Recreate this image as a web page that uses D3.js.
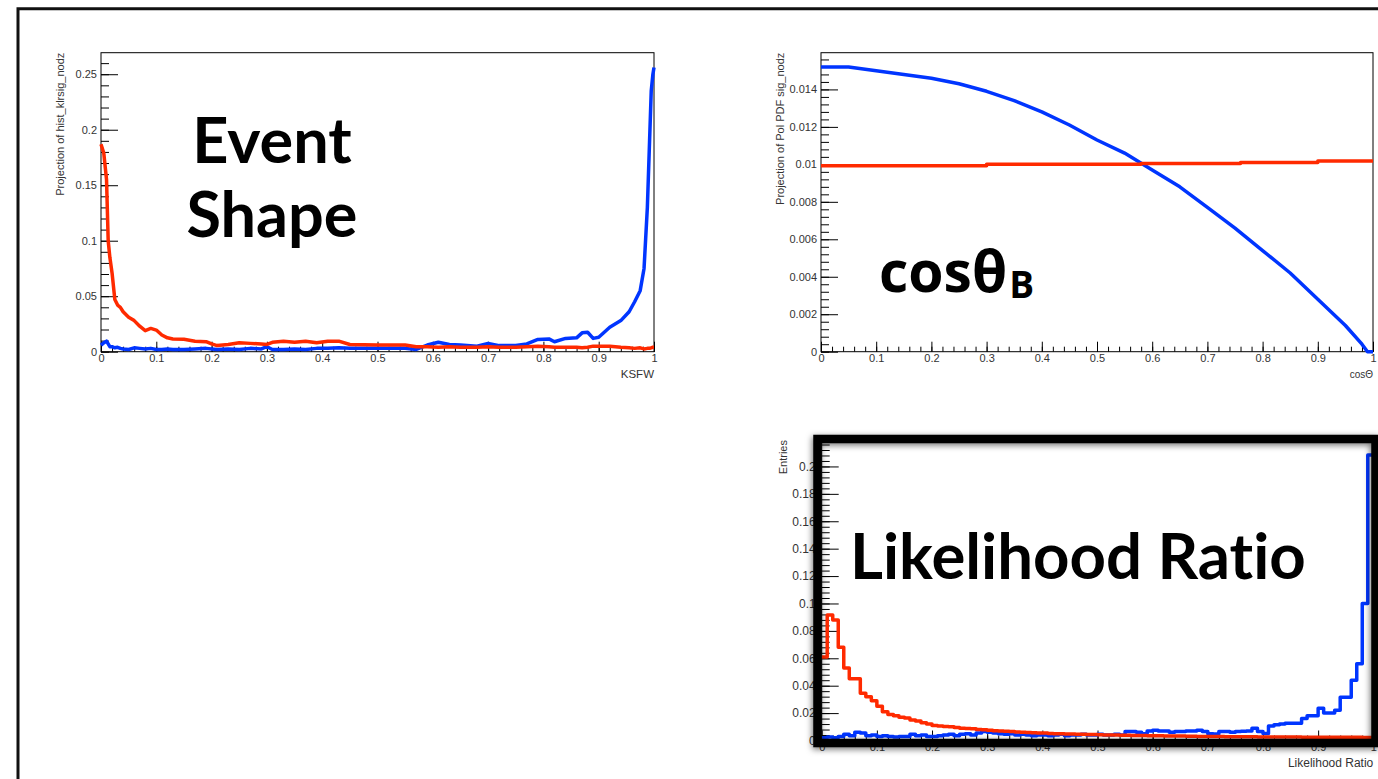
<!DOCTYPE html>
<html>
<head>
<meta charset="utf-8">
<script src="https://cdn.jsdelivr.net/npm/d3@7"></script>
<style>
  body { margin: 0; background: #fff; }
  svg { display: block; }
  .tick text { font-family: "Liberation Sans", Arial, sans-serif; font-size: 11px; fill: #333; }
  .tick line { stroke: #000; }
  .ttl { font-family: "Liberation Sans", Arial, sans-serif; font-size: 11px; fill: #333; }
  .big { font-family: Lato, sans-serif; font-weight: 700; fill: #000;
         font-variant-ligatures: none; font-feature-settings: "liga" 0, "dlig" 0; }
</style>
</head>
<body>
<div id="slide"></div>
<script>
// page size
var W = 1378, H = 779;

// shared x ticks (all three panels run 0..1)
var unitXTicks = [0, 0.1, 0.2, 0.3, 0.4, 0.5, 0.6, 0.7, 0.8, 0.9, 1];

// ---- KSFW panel (event shape) ----
var ksfwX = [0, 0.005, 0.01, 0.013, 0.016, 0.02, 0.025, 0.03, 0.035, 0.04,
  0.05, 0.06, 0.07, 0.08, 0.09, 0.1, 0.11, 0.12, 0.13, 0.15,
  0.17, 0.19, 0.2, 0.21, 0.23, 0.25, 0.27, 0.29, 0.3, 0.31,
  0.33, 0.35, 0.37, 0.39, 0.41, 0.43, 0.45, 0.5, 0.55, 0.57,
  0.59, 0.61, 0.63, 0.65, 0.68, 0.7, 0.72, 0.75, 0.77, 0.79,
  0.81, 0.82, 0.84, 0.86, 0.87, 0.88, 0.89, 0.9, 0.92, 0.94,
  0.955, 0.965, 0.975, 0.982, 0.988, 0.992, 0.995, 0.998, 1.0];
var ksfwBkg = [0.187, 0.179, 0.155, 0.1, 0.085, 0.071, 0.047, 0.042, 0.04, 0.036,
  0.031, 0.028, 0.023, 0.019, 0.021, 0.0195, 0.015, 0.0125, 0.0115, 0.0112,
  0.0095, 0.009, 0.007, 0.0055, 0.0065, 0.008, 0.0075, 0.007, 0.0065, 0.0085,
  0.0095, 0.0085, 0.0095, 0.008, 0.0095, 0.0095, 0.0065, 0.006, 0.006, 0.0045,
  0.0045, 0.004, 0.0045, 0.004, 0.004, 0.0045, 0.004, 0.004, 0.0045, 0.005,
  0.0045, 0.004, 0.004, 0.004, 0.0035, 0.004, 0.005, 0.0048, 0.005, 0.004,
  0.0035, 0.003, 0.0035, 0.0025, 0.003, 0.003, 0.0035, 0.004, 0.004];
var ksfwSig = [0.006, 0.008, 0.0095, 0.007, 0.0045, 0.0045, 0.0035, 0.004, 0.003, 0.0025,
  0.002, 0.0035, 0.003, 0.0025, 0.003, 0.002, 0.002, 0.0025, 0.002, 0.002,
  0.0025, 0.003, 0.0025, 0.002, 0.0025, 0.002, 0.003, 0.0025, 0.0045, 0.002,
  0.002, 0.0025, 0.002, 0.003, 0.003, 0.0035, 0.003, 0.003, 0.003, 0.002,
  0.006, 0.0085, 0.0065, 0.006, 0.005, 0.0075, 0.0055, 0.0055, 0.007, 0.011,
  0.0115, 0.009, 0.012, 0.0125, 0.017, 0.0175, 0.012, 0.013, 0.022, 0.028,
  0.036, 0.045, 0.055, 0.075, 0.13, 0.19, 0.235, 0.25, 0.256];
var ksfwYTicks = [0, 0.05, 0.1, 0.15, 0.2, 0.25];

// ---- cos(theta_B) panel ----
var cosX = [0, 0.05, 0.1, 0.15, 0.2, 0.25, 0.3, 0.35, 0.4, 0.45,
  0.5, 0.55, 0.6, 0.65, 0.7, 0.75, 0.8, 0.85, 0.9, 0.95, 0.98, 0.99, 1.0];
var cosSig = [0.0152, 0.0152, 0.015, 0.0148, 0.0146, 0.0143, 0.0139, 0.0134, 0.0128, 0.0121,
  0.0113, 0.0106, 0.0097, 0.0088, 0.0077, 0.0066, 0.0054, 0.0042, 0.0028, 0.0014, 0.0004, 0, 0];
var cosBkgEdges = [0, 0.3, 0.58, 0.76, 0.9, 1.0];
var cosBkg = [0.00993, 0.01, 0.01005, 0.0101, 0.01018];
var cosYTicks = [0, 0.002, 0.004, 0.006, 0.008, 0.01, 0.012, 0.014];

// ---- likelihood ratio panel, 100 bins of 0.01 ----
var lrBinWidth = 0.01;
var lrBkg = [0.061, 0.0915, 0.088, 0.068, 0.053, 0.045, 0.045, 0.0345, 0.032, 0.029,
  0.025, 0.021, 0.019, 0.018, 0.017, 0.0165, 0.015, 0.0142, 0.013, 0.012,
  0.011, 0.0105, 0.0102, 0.01, 0.0095, 0.009, 0.0088, 0.0085, 0.008, 0.0078,
  0.0075, 0.0072, 0.007, 0.0068, 0.0065, 0.0062, 0.006, 0.0058, 0.0056, 0.0055,
  0.0054, 0.0052, 0.005, 0.005, 0.0048, 0.0047, 0.0046, 0.0045, 0.0044, 0.0043,
  0.0042, 0.0041, 0.004, 0.004, 0.0039, 0.0038, 0.0037, 0.0036, 0.0036, 0.0035,
  0.0035, 0.0034, 0.0033, 0.0033, 0.0032, 0.0032, 0.0031, 0.0031, 0.003, 0.003,
  0.003, 0.0029, 0.0029, 0.0028, 0.0028, 0.0028, 0.0027, 0.0027, 0.0027, 0.0026,
  0.0026, 0.0026, 0.0026, 0.0025, 0.0025, 0.0025, 0.0025, 0.0024, 0.0024, 0.0024,
  0.0024, 0.0024, 0.0023, 0.0023, 0.0023, 0.0023, 0.0023, 0.0023, 0.0022, 0.0022];
var lrSig = [0.002, 0.0025, 0.002, 0.003, 0.0045, 0.0035, 0.006, 0.0055, 0.0035, 0.004,
  0.003, 0.0035, 0.003, 0.0025, 0.003, 0.003, 0.0045, 0.0035, 0.004, 0.003,
  0.003, 0.0035, 0.004, 0.0045, 0.0035, 0.0045, 0.005, 0.004, 0.0055, 0.0065,
  0.006, 0.0055, 0.005, 0.0045, 0.005, 0.004, 0.0045, 0.004, 0.0035, 0.004,
  0.004, 0.0035, 0.004, 0.0045, 0.0035, 0.004, 0.004, 0.0045, 0.004, 0.004,
  0.0045, 0.004, 0.004, 0.0045, 0.004, 0.0065, 0.0065, 0.006, 0.005, 0.007,
  0.0075, 0.007, 0.007, 0.006, 0.0065, 0.0065, 0.007, 0.007, 0.0075, 0.0065,
  0.005, 0.0048, 0.0065, 0.0065, 0.006, 0.0065, 0.0068, 0.007, 0.009, 0.0065,
  0.0052, 0.0106, 0.0115, 0.012, 0.0125, 0.0125, 0.0125, 0.016, 0.018, 0.018,
  0.0235, 0.02, 0.02, 0.022, 0.0315, 0.0315, 0.044, 0.056, 0.1, 0.2084];
var lrYTicks = [0, 0.02, 0.04, 0.06, 0.08, 0.1, 0.12, 0.14, 0.16, 0.18, 0.2];

var RED = "#ff2a00", BLUE = "#0035ff";

var svg = d3.select("#slide").append("svg")
  .attr("width", W)
  .attr("height", H);

var fmt = function(d) { return d === 0 ? "0" : String(+d.toFixed(4)); };

// ROOT style frame: ticks point into the plot, 4 minor ticks between majors
function makePanel(p) {
  var x = d3.scaleLinear().domain([0, 1]).range([p.left, p.right]);
  var y = d3.scaleLinear().domain([0, p.ymax]).range([p.bottom, p.top]);
  var g = svg.append("g");

  var xMinor = d3.range(0, 1.0001, 0.02);
  var yMinor = d3.range(0, p.ymax, p.yMinor);

  g.append("g")
    .attr("transform", "translate(0," + p.bottom + ")")
    .call(d3.axisBottom(x).tickValues(xMinor).tickSize(-5).tickFormat(""))
    .call(function(a) { a.select(".domain").remove(); });
  g.append("g")
    .attr("transform", "translate(0," + p.bottom + ")")
    .call(d3.axisBottom(x).tickValues(unitXTicks).tickSize(-10).tickPadding(3).tickFormat(fmt))
    .call(function(a) { a.select(".domain").remove(); });

  g.append("g")
    .attr("transform", "translate(" + p.left + ",0)")
    .call(d3.axisLeft(y).tickValues(yMinor).tickSize(-8).tickFormat(""))
    .call(function(a) { a.select(".domain").remove(); });
  g.append("g")
    .attr("transform", "translate(" + p.left + ",0)")
    .call(d3.axisLeft(y).tickValues(p.yTicks).tickSize(-17).tickPadding(p.yPad || 4).tickFormat(fmt))
    .call(function(a) { a.select(".domain").remove(); })
    .selectAll("text").style("font-size", (p.tickSize || 11) + "px");

  g.append("rect")
    .attr("x", p.left)
    .attr("y", p.top)
    .attr("width", p.right - p.left)
    .attr("height", p.bottom - p.top)
    .attr("fill", "none")
    .attr("stroke", "#000")
    .attr("stroke-width", 1);

  // axis titles
  g.append("text")
    .attr("class", "ttl")
    .attr("transform", "translate(" + p.yTitleX + "," + p.top + ") rotate(-90)")
    .attr("text-anchor", "end")
    .text(p.yTitle);
  g.append("text")
    .attr("class", "ttl")
    .attr("x", p.right)
    .attr("y", p.bottom + 26)
    .attr("text-anchor", "end")
    .style("font-size", p.xTitleSize + "px")
    .text(p.xTitle);

  return { x: x, y: y, g: g };
}

function drawLine(panel, xs, ys, color, curve) {
  var line = d3.line()
    .x(function(d, i) { return panel.x(xs[i]); })
    .y(function(d) { return panel.y(d); })
    .curve(curve || d3.curveLinear);
  panel.g.append("path")
    .datum(ys)
    .attr("d", line)
    .attr("fill", "none")
    .attr("stroke", color)
    .attr("stroke-width", 3.5)
    .attr("stroke-linejoin", "round");
}

// ---------- panel 1: KSFW ----------
var p1 = makePanel({
  left: 101, right: 654, top: 52.7, bottom: 351.7, ymax: 0.2694,
  yTicks: ksfwYTicks, yMinor: 0.01,
  yTitle: "Projection of hist_klrsig_nodz", yTitleX: 64,
  xTitle: "KSFW", xTitleSize: 11.5
});
drawLine(p1, ksfwX, ksfwSig, BLUE);
drawLine(p1, ksfwX, ksfwBkg, RED);

p1.g.append("text").attr("class", "big")
  .attr("x", 272).attr("y", 163)
  .attr("text-anchor", "middle")
  .style("font-size", "63px")
  .text("Event");
p1.g.append("text").attr("class", "big")
  .attr("x", 272).attr("y", 237)
  .attr("text-anchor", "middle")
  .style("font-size", "63px")
  .text("Shape");

// ---------- panel 2: cos theta_B ----------
var p2 = makePanel({
  left: 821, right: 1373, top: 52.7, bottom: 351.7, ymax: 0.01596,
  yTicks: cosYTicks, yMinor: 0.0004,
  yTitle: "Projection of Pol PDF sig_nodz", yTitleX: 784,
  xTitle: "cosΘ", xTitleSize: 10
});
drawLine(p2, cosX, cosSig, BLUE);
var cosBkgPts = cosBkg.concat([cosBkg[cosBkg.length - 1]]);
drawLine(p2, cosBkgEdges, cosBkgPts, RED, d3.curveStepAfter);

var cosLabel = p2.g.append("text")
  .attr("x", 879).attr("y", 292)
  .style("font-family", "'Open Sans', sans-serif")
  .style("font-weight", 700)
  .style("font-size", "57px")
  .attr("fill", "#000");
cosLabel.append("tspan").text("cosθ");
cosLabel.append("tspan").attr("dx", 2).attr("dy", 6).style("font-size", "37px").text("B");

// ---------- panel 3: likelihood ratio ----------
var p3 = makePanel({
  left: 821.7, right: 1373.3, top: 440, bottom: 740.5, ymax: 0.2193,
  yTicks: lrYTicks, yMinor: 0.004, yPad: 6, tickSize: 12,
  yTitle: "Entries", yTitleX: 787,
  xTitle: "Likelihood Ratio", xTitleSize: 12
});
var lrEdges = d3.range(lrBkg.length + 1).map(function(i) { return i * lrBinWidth; });
drawLine(p3, lrEdges, lrSig.concat([lrSig[lrSig.length - 1]]), BLUE, d3.curveStepAfter);
drawLine(p3, lrEdges, lrBkg.concat([lrBkg[lrBkg.length - 1]]), RED, d3.curveStepAfter);

p3.g.append("text").attr("class", "big")
  .attr("x", 850).attr("y", 579)
  .style("font-size", "63.5px")
  .text("Likelihood Ratio");

// thick highlight box with soft shadow over panel 3
var defs = svg.append("defs");
var shadow = defs.append("filter").attr("id", "shadow")
  .attr("x", "-5%").attr("y", "-5%").attr("width", "110%").attr("height", "110%");
shadow.append("feDropShadow")
  .attr("dx", -1).attr("dy", 2)
  .attr("stdDeviation", 3)
  .attr("flood-color", "#000")
  .attr("flood-opacity", 0.55);

svg.append("rect")
  .attr("x", 817.5).attr("y", 439)
  .attr("width", 558).attr("height", 304)
  .attr("fill", "none")
  .attr("stroke", "#000")
  .attr("stroke-width", 8.5)
  .attr("filter", "url(#shadow)");

// slide border (top and left edges)
svg.append("path")
  .attr("d", "M18," + H + "V8.7H" + W)
  .attr("fill", "none")
  .attr("stroke", "#111")
  .attr("stroke-width", 3);
</script>
</body>
</html>
